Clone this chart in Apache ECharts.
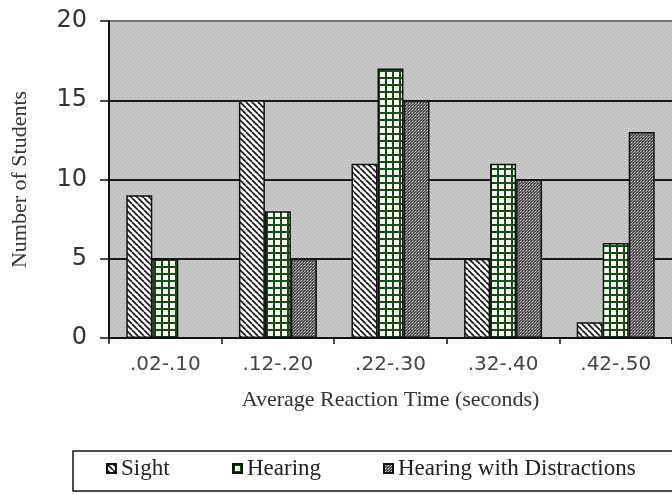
<!DOCTYPE html>
<html>
<head>
<meta charset="utf-8">
<script src="https://cdn.jsdelivr.net/npm/echarts@6/dist/echarts.min.js"></script>
<style>
html,body{margin:0;padding:0;background:#fff;}
#chart{width:672px;height:494px;}
</style>
</head>
<body>
<div id="chart"></div>
<script>
// ---- data ----
const categories = ['.02-.10', '.12-.20', '.22-.30', '.32-.40', '.42-.50'];
const sight = [9, 15, 11, 5, 1];
const hearing = [5, 8, 17, 11, 6];
const hearingDistractions = [0, 5, 15, 10, 13];
const seriesNames = ['Sight', 'Hearing', 'Hearing with Distractions'];
const yTicks = [0, 5, 10, 15, 20];

// ---- fill patterns ----
function makeCanvas(w, h) {
  const c = document.createElement('canvas');
  c.width = w; c.height = h;
  return c;
}
function hatchPattern() {
  const c = makeCanvas(6, 6), g = c.getContext('2d');
  g.fillStyle = '#ffffff'; g.fillRect(0, 0, 6, 6);
  g.strokeStyle = '#111'; g.lineWidth = 1.6;
  for (let k = -1; k <= 1; k++) {
    g.beginPath(); g.moveTo(k * 6, 0); g.lineTo(k * 6 + 6, 6); g.stroke();
  }
  return { image: c, repeat: 'repeat' };
}
function gridPattern() {
  const c = makeCanvas(7, 7), g = c.getContext('2d');
  g.fillStyle = '#f6fbf4'; g.fillRect(0, 0, 7, 7);
  g.fillStyle = '#184a18';
  g.fillRect(0, 0, 7, 2);
  g.fillRect(0, 0, 2, 7);
  return { image: c, repeat: 'repeat' };
}
function dotPattern() {
  const c = makeCanvas(3, 3), g = c.getContext('2d');
  g.fillStyle = '#5a5a5a'; g.fillRect(0, 0, 3, 3);
  g.fillStyle = '#c8c8c8'; g.fillRect(1, 1, 1, 1);
  g.fillStyle = '#2e2e2e'; g.fillRect(0, 0, 1, 1);
  g.fillStyle = '#9a9a9a'; g.fillRect(2, 0, 1, 1); g.fillRect(0, 2, 1, 1);
  return { image: c, repeat: 'repeat' };
}
function bgPattern() {
  const c = makeCanvas(4, 4), g = c.getContext('2d');
  g.fillStyle = '#c3c3c3'; g.fillRect(0, 0, 4, 4);
  g.fillStyle = '#cdcdcd'; g.fillRect(0, 0, 2, 1); g.fillRect(2, 2, 2, 1);
  g.fillStyle = '#bababa'; g.fillRect(1, 3, 1, 1); g.fillRect(3, 1, 1, 1);
  return { image: c, repeat: 'repeat' };
}

const fills = [hatchPattern(), gridPattern(), dotPattern()];
const values = [sight, hearing, hearingDistractions];

const serif = '"Liberation Serif", "Times New Roman", serif';
const sans = '"DejaVu Sans", Verdana, sans-serif';

const chart = echarts.init(document.getElementById('chart'), null, { renderer: 'canvas' });

const legendLefts = [106, 232, 383];

const option = {
  animation: false,
  backgroundColor: '#ffffff',
  graphic: [
    {
      type: 'rect', z: -1,
      shape: { x: 73, y: 451, width: 620, height: 40 },
      style: { fill: '#ffffff', stroke: '#111', lineWidth: 1.5 }
    }
  ],
  grid: {
    left: 109, right: -7, top: 21, bottom: 156,
    show: true,
    backgroundColor: bgPattern(),
    borderWidth: 0
  },
  legend: seriesNames.map((n, i) => ({
    data: [n],
    left: legendLefts[i],
    top: 457,
    padding: 0,
    itemWidth: 9,
    itemHeight: 9,
    itemGap: 6,
    icon: 'rect',
    selectedMode: false,
    textStyle: { fontFamily: serif, fontSize: 23, color: '#222' }
  })),
  xAxis: {
    type: 'category',
    data: categories,
    name: 'Average Reaction Time (seconds)',
    nameLocation: 'middle',
    nameGap: 51,
    nameTextStyle: { fontFamily: serif, fontSize: 22, color: '#333' },
    axisLine: { lineStyle: { color: '#111', width: 2 } },
    axisTick: { show: true, length: 6, lineStyle: { color: '#111', width: 1.5 } },
    axisLabel: { fontFamily: sans, fontSize: 20, color: '#444', margin: 17 },
    splitLine: { show: false }
  },
  yAxis: {
    type: 'value',
    min: yTicks[0],
    max: yTicks[yTicks.length - 1],
    interval: 5,
    name: 'Number of Students',
    nameLocation: 'middle',
    nameRotate: 90,
    nameGap: 78,
    nameTextStyle: { fontFamily: serif, fontSize: 22, color: '#333' },
    axisLine: { show: true, lineStyle: { color: '#111', width: 2 } },
    axisTick: { show: true, length: 9, lineStyle: { color: '#111', width: 1.5 } },
    axisLabel: { fontFamily: sans, fontSize: 24, color: '#333', margin: 22 },
    splitLine: { show: true, lineStyle: { color: ['#111', '#1a1a1a', '#1a1a1a', '#1a1a1a', '#777'], width: 2 } }
  },
  series: seriesNames.map((n, i) => ({
    name: n,
    type: 'bar',
    data: values[i],
    barWidth: 26,
    barGap: '0%',
    itemStyle: { color: fills[i], borderColor: '#111', borderWidth: 1.5 },
    emphasis: { disabled: true }
  }))
};
chart.setOption(option);
</script>
</body>
</html>
